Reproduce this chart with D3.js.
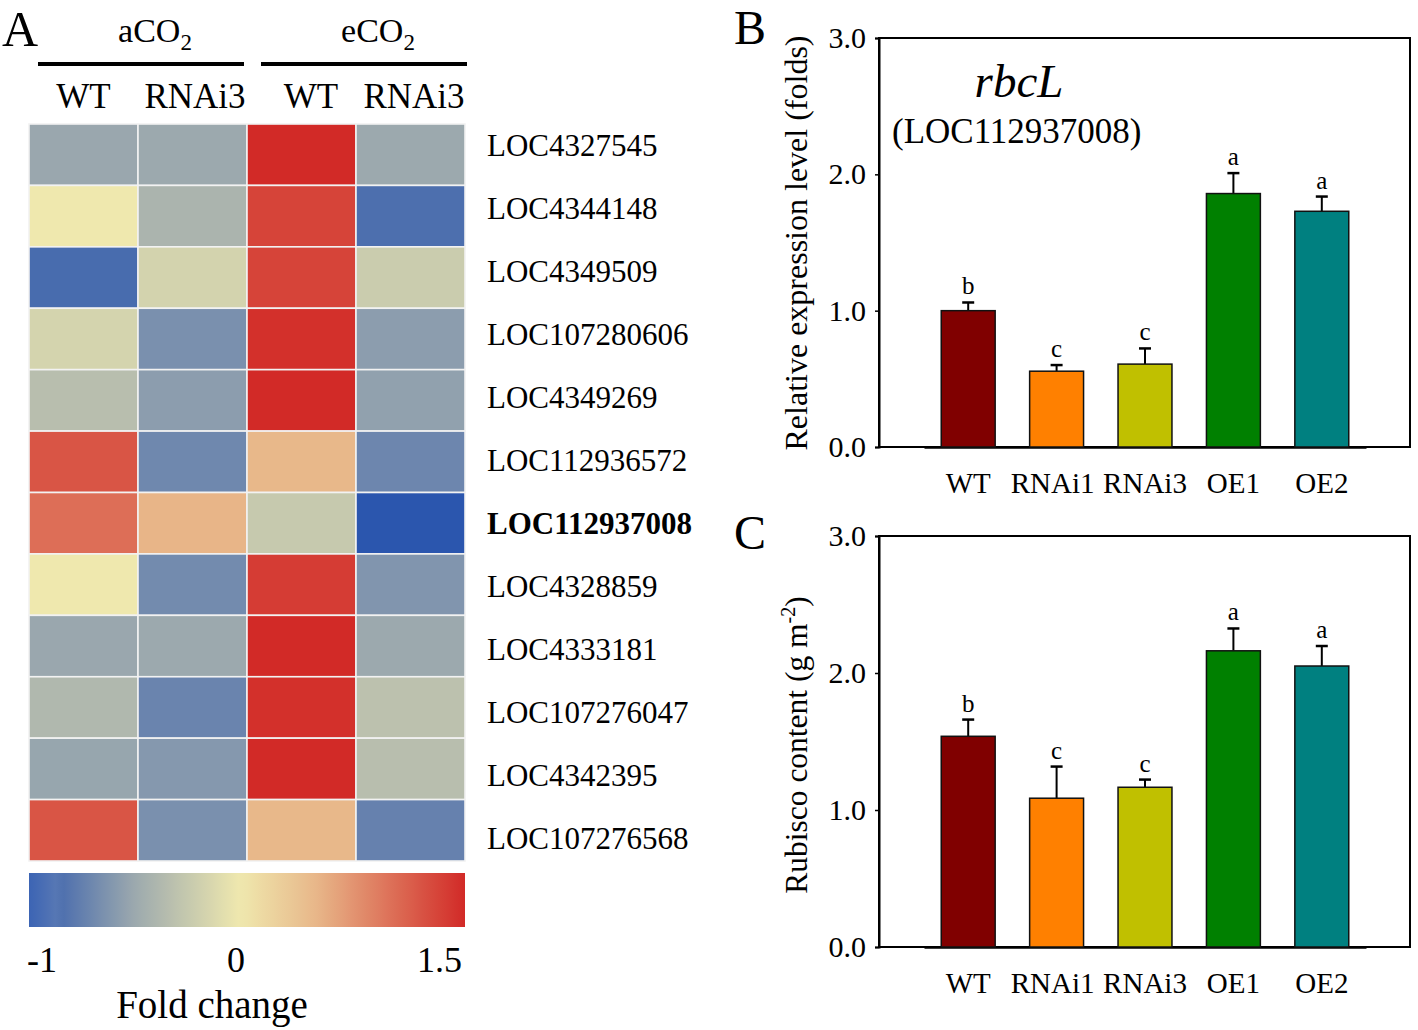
<!DOCTYPE html>
<html><head><meta charset="utf-8">
<script src="https://cdn.jsdelivr.net/npm/d3@7/dist/d3.min.js"></script>
<style>body{margin:0;background:#fff}svg{display:block;font-family:"Liberation Serif","Times New Roman",serif}</style>
</head><body><svg id="c" width="1418" height="1030"></svg>
<script>
// ---------- DATA ----------
const genes = ["LOC4327545","LOC4344148","LOC4349509","LOC107280606","LOC4349269","LOC112936572","LOC112937008","LOC4328859","LOC4333181","LOC107276047","LOC4342395","LOC107276568"];
const highlightGene = "LOC112937008";
const conditions = ["aCO2_WT","aCO2_RNAi3","eCO2_WT","eCO2_RNAi3"];
const columnLabels = ["WT","RNAi3","WT","RNAi3"];
const groupLabels = ["a","e"];
const aCO2_WT    = [-0.51, 0.00, -0.87, -0.16, -0.33, 1.20, 1.02, 0.00, -0.51, -0.38, -0.52, 1.20];
const aCO2_RNAi3 = [-0.50, -0.41, -0.17, -0.65, -0.57, -0.70, 0.52, -0.68, -0.50, -0.72, -0.60, -0.65];
const eCO2_WT    = [1.50, 1.32, 1.32, 1.46, 1.50, 0.50, -0.25, 1.37, 1.50, 1.46, 1.50, 0.50];
const eCO2_RNAi3 = [-0.50, -0.85, -0.22, -0.57, -0.55, -0.71, -1.00, -0.62, -0.50, -0.31, -0.33, -0.74];
const colorbarTicks = [-1, 0, 1.5];

const lines = ["WT","RNAi1","RNAi3","OE1","OE2"];
const lineColors = ["#800000","#ff8000","#c0c000","#008000","#008080"];
const exprMean = [1.00, 0.556, 0.608, 1.859, 1.729];
const exprErr  = [0.06, 0.045, 0.115, 0.150, 0.108];
const exprLetters = ["b","c","c","a","a"];
const rubMean = [1.538, 1.086, 1.166, 2.162, 2.051];
const rubErr  = [0.122, 0.231, 0.056, 0.163, 0.146];
const rubLetters = ["b","c","c","a","a"];
const yTicks = [0, 1, 2, 3];

// ---------- DRAW ----------
const svg = d3.select("#c");
const F = '"Liberation Serif","Times New Roman",serif';

// Panel letters
svg.append("text").attr("x",2).attr("y",46).attr("font-size",50).text("A");
svg.append("text").attr("x",734).attr("y",44).attr("font-size",48).text("B");
svg.append("text").attr("x",734).attr("y",549).attr("font-size",48).text("C");

// Heatmap
const cols = [aCO2_WT, aCO2_RNAi3, eCO2_WT, eCO2_RNAi3];
const hx = d3.scaleBand().domain(conditions).range([29, 465]);
const hy = d3.scaleBand().domain(genes).range([124, 861]);
const color = d3.scaleLinear()
  .domain([-1, -0.5, 0, 0.5, 1.5])
  .range(["#2b56ae","#9ca9ae","#efe8ae","#e8b88a","#d22a27"])
  .interpolate(d3.interpolateRgb).clamp(true);

const cells = [];
conditions.forEach((c,ci)=> genes.forEach((g,gi)=> cells.push({c, g, v: cols[ci][gi]})));
svg.append("g").selectAll("rect").data(cells).join("rect")
  .attr("x", d=>hx(d.c)).attr("y", d=>hy(d.g))
  .attr("width", hx.bandwidth()).attr("height", hy.bandwidth())
  .attr("fill", d=>color(d.v)).attr("stroke","#f2f2f2").attr("stroke-width",1.6);

// Column headers
const hdr = svg.append("g");
const groupLines = [[38,244],[261,467]];
groupLabels.forEach((p,i)=>{
  const cx = (groupLines[i][0]+groupLines[i][1])/2 + 14;
  const t = hdr.append("text").attr("x", cx).attr("y", 42).attr("font-size", 34).attr("text-anchor","middle");
  t.append("tspan").text(p+"CO");
  t.append("tspan").attr("font-size",23).attr("dy",8).text("2");
  hdr.append("line").attr("x1",groupLines[i][0]).attr("x2",groupLines[i][1]).attr("y1",64).attr("y2",64)
    .attr("stroke","#000").attr("stroke-width",4);
});
hdr.selectAll("text.col").data(conditions).join("text").attr("class","col")
  .attr("x",(d,i)=>hx(d)+hx.bandwidth()/2 + [0,2.5,9.5,3.5][i]).attr("y",108)
  .attr("text-anchor","middle").attr("font-size",35).text((d,i)=>columnLabels[i]);

// Row labels
const ly = d3.scalePoint().domain(genes).range([145, 838]);
svg.append("g").selectAll("text").data(genes).join("text")
  .attr("x",487).attr("y",d=>ly(d)).attr("dy","0.35em").attr("font-size",31)
  .attr("font-weight",d=>d===highlightGene?"bold":"normal").text(d=>d);

// Colorbar
const cbPos = d3.scaleLinear().domain([-1,0,1.5]).range([29,240,465]);
const defs = svg.append("defs");
const grad = defs.append("linearGradient").attr("id","cb").attr("x1","0%").attr("x2","100%");
d3.range(0,1.0001,0.02).forEach(t=>{
  const v = cbPos.invert(29 + t*(465-29));
  grad.append("stop").attr("offset",(t*100)+"%").attr("stop-color",d3.interpolateRgb(color(v),"#ffffff")(v<-0.85?0.08:0));
});
svg.append("rect").attr("x",29).attr("y",873).attr("width",436).attr("height",54).attr("fill","url(#cb)");
svg.append("g").selectAll("text").data(colorbarTicks).join("text")
  .attr("x",d=> d===-1?27 : d===1.5?462 : cbPos(d)-4)
  .attr("text-anchor",d=> d===-1?"start": d===1.5?"end":"middle")
  .attr("y",972).attr("font-size",36).text(d=>d===-1?"-1":String(d));
svg.append("text").attr("x",212).attr("y",1018).attr("text-anchor","middle").attr("font-size",39).text("Fold change");

// Bar panels
function barPanel(top, bottom, means, errs, letters){
  const x = d3.scaleBand().domain(lines).range([924,1366]).paddingInner(0.39).paddingOuter(0.195);
  const y = d3.scaleLinear().domain([0,3]).range([bottom, top]);
  const g = svg.append("g");
  g.append("rect").attr("x",879).attr("y",top).attr("width",1410-879).attr("height",bottom-top)
    .attr("fill","none").attr("stroke","#000").attr("stroke-width",2);
  const ya = g.append("g").attr("transform","translate(879,0)")
    .call(d3.axisLeft(y).tickValues(yTicks).tickFormat(d3.format(".1f")).tickSize(4).tickPadding(9));
  ya.select(".domain").attr("stroke-width",2);
  ya.selectAll("text").attr("font-size",30).attr("font-family",F).attr("fill","#000");
  ya.selectAll("line").attr("stroke-width",1.5);
  const xa = g.append("g").attr("transform",`translate(0,${bottom})`)
    .call(d3.axisBottom(x).tickSize(0).tickPadding(25));
  xa.select(".domain").attr("stroke-width",2.5);
  xa.selectAll("text").attr("font-size",29).attr("font-family",F).attr("fill","#000")
    .attr("dx",(d,i)=>[0,-4,0,0,0][i]);
  const data = lines.map((l,i)=>({l, m:means[i], e:errs[i], t:letters[i], c:lineColors[i]}));
  g.selectAll("line.err").data(data).join("line").attr("class","err")
    .attr("x1",d=>x(d.l)+x.bandwidth()/2).attr("x2",d=>x(d.l)+x.bandwidth()/2)
    .attr("y1",d=>y(d.m)).attr("y2",d=>y(d.m+d.e)).attr("stroke","#000").attr("stroke-width",2);
  g.selectAll("line.cap").data(data).join("line").attr("class","cap")
    .attr("x1",d=>x(d.l)+x.bandwidth()/2-6).attr("x2",d=>x(d.l)+x.bandwidth()/2+6)
    .attr("y1",d=>y(d.m+d.e)).attr("y2",d=>y(d.m+d.e)).attr("stroke","#000").attr("stroke-width",2.5);
  g.selectAll("rect.bar").data(data).join("rect").attr("class","bar")
    .attr("x",d=>x(d.l)).attr("width",x.bandwidth())
    .attr("y",d=>y(d.m)).attr("height",d=>y(0)-y(d.m))
    .attr("fill",d=>d.c).attr("stroke","#111").attr("stroke-width",1.5);
  g.selectAll("text.sig").data(data).join("text").attr("class","sig")
    .attr("x",d=>x(d.l)+x.bandwidth()/2).attr("y",d=>y(d.m+d.e)-8)
    .attr("text-anchor","middle").attr("font-size",25).text(d=>d.t);
  return {g, x, y};
}

barPanel(38, 447, exprMean, exprErr, exprLetters);
svg.append("text").attr("transform","translate(807,243) rotate(-90)").attr("text-anchor","middle")
  .attr("font-size",32).text("Relative expression level (folds)");
svg.append("text").attr("x",1019).attr("y",97).attr("text-anchor","middle").attr("font-size",47)
  .attr("font-style","italic").text("rbcL");
svg.append("text").attr("x",892).attr("y",143).attr("font-size",35).text("(LOC112937008)");

barPanel(536, 947, rubMean, rubErr, rubLetters);
const yl = svg.append("text").attr("transform","translate(807,745) rotate(-90)").attr("text-anchor","middle").attr("font-size",31.5);
yl.append("tspan").text("Rubisco content (g m");
yl.append("tspan").attr("font-size",20).attr("dy",-12).text("-2");
yl.append("tspan").attr("dy",12).text(")");
</script></body></html>
